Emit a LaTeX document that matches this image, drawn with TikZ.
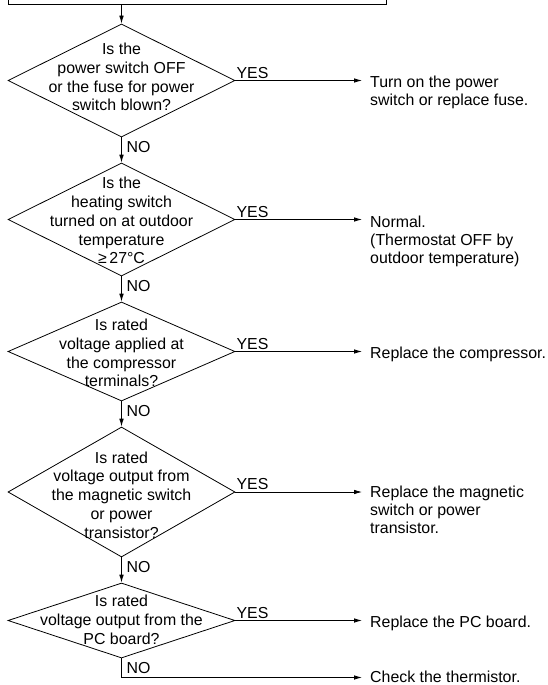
\documentclass[tikz,border=0pt]{standalone}
\usepackage{fontspec}
\setmainfont{Liberation Sans}
\usetikzlibrary{shapes.geometric,arrows.meta}

\begin{document}
\begin{tikzpicture}[x=1pt,y=-1pt,
  wire/.style={line width=0.8pt},
  arr/.style={wire,-{Latex[length=8pt,width=4.6pt]}},
  question/.style={draw,wire,shape=diamond,minimum width=227pt,inner sep=0pt},
  qtext/.style={inner sep=0pt,font=\fontsize{15.9}{18.8}\selectfont},
  action/.style={anchor=base west,inner xsep=8pt,inner ysep=0pt,font=\fontsize{15.9}{18}\selectfont},
  yes/.style={anchor=base west,inner sep=0pt,font=\fontsize{15.9}{18}\selectfont},
  no/.style={anchor=north west,inner sep=0pt,font=\fontsize{15.9}{18}\selectfont}]

\useasboundingbox (0,0) rectangle (548,685);
\clip (0,0) rectangle (548,685);

% box above the first question (only its lower edge is in view)
\node[draw,wire,minimum width=378pt,minimum height=30pt,inner sep=0pt] (start) at (197,-11) {};

% questions
\node[question,minimum height=113pt] (d1) at (121.5,80.5) {};
\node[question,minimum height=113pt] (d2) at (121.5,219.5) {};
\node[question,minimum height=99pt]  (d3) at (121.5,351.5) {};
\node[question,minimum height=130pt] (d4) at (121.5,492) {};
\node[question,minimum height=75pt]  (d5) at (121.5,620.5) {};

\node[qtext] (t1) at (121.5,79) {\begin{tabular}{@{}c@{}}Is the\\power switch OFF\\or the fuse for power\\switch blown?\end{tabular}};
\node[qtext] (t2) at (121.5,222.5) {\begin{tabular}{@{}c@{}}Is the\\heating switch\\turned on at outdoor\\temperature\\≥\,27°C\end{tabular}};
\node[qtext] (t3) at (121.5,355) {\begin{tabular}{@{}c@{}}Is rated\\voltage applied at\\the compressor\\terminals?\end{tabular}};
\node[qtext] (t4) at (121.5,497) {\begin{tabular}{@{}c@{}}Is rated\\voltage output from\\the magnetic switch\\or power\\transistor?\end{tabular}};
\node[qtext] (t5) at (121.5,622) {\begin{tabular}{@{}c@{}}Is rated\\voltage output from the\\PC board?\end{tabular}};

% actions
\node[action] (r1) at (362,87.7) {\begin{tabular}[t]{@{}l@{}}Turn on the power\\switch or replace fuse.\end{tabular}};
\node[action] (r2) at (362,227.7) {\begin{tabular}[t]{@{}l@{}}Normal.\\(Thermostat OFF by\\outdoor temperature)\end{tabular}};
\node[action] (r3) at (362,358.7) {Replace the compressor.};
\node[action] (r4) at (362,497.7) {\begin{tabular}[t]{@{}l@{}}Replace the magnetic\\switch or power\\transistor.\end{tabular}};
\node[action] (r5) at (362,627.7) {Replace the PC board.};
\node[action] (r6) at (362,682.8) {Check the thermistor.};

% flow down the NO branches
\draw[arr] (start.south -| d1.north) -- (d1.north);
\draw[arr] (d1.south) -- (d2.north);
\draw[arr] (d2.south) -- (d3.north);
\draw[arr] (d3.south) -- (d4.north);
\draw[arr] (d4.south) -- (d5.north);
\coordinate (turn) at (121.5,677.5);
\draw[arr] (d5.south) -- (turn) -- (turn -| r6.west);

% YES branches
\foreach \q/\r in {d1/r1,d2/r2,d3/r3,d4/r4,d5/r5}{
  \draw[arr] (\q.east) -- (\q.east -| \r.west);
  \node[yes] at ([xshift=1pt,yshift=2.3pt]\q.east) {YES};
}
\foreach \q in {d1,d2,d3,d4,d5}{
  \node[no] at ([xshift=5pt,yshift=-4pt]\q.south) {NO};
}
\end{tikzpicture}
\end{document}
